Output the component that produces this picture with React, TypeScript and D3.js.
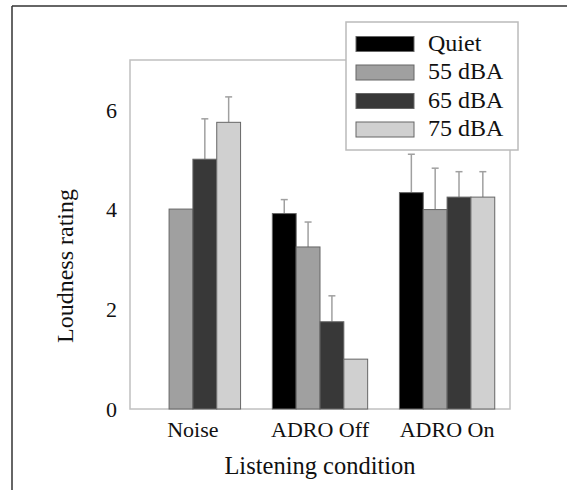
import * as d3 from 'd3';

const categories = ['Noise', 'ADRO Off', 'ADRO On'];
const seriesNames = ['Quiet', '55 dBA', '65 dBA', '75 dBA'];
const seriesColors = ['#000000', '#a0a0a0', '#383838', '#d0d0d0'];

// mean loudness ratings per listening condition (null = not measured)
const quiet = [null, 3.92, 4.34];
const dba55 = [4.01, 3.25, 4.0];
const dba65 = [5.01, 1.75, 4.25];
const dba75 = [5.75, 1.0, 4.25];

// upper error bar lengths
const quietErr = [null, 0.28, 0.77];
const dba55Err = [0, 0.5, 0.83];
const dba65Err = [0.81, 0.52, 0.51];
const dba75Err = [0.51, 0, 0.51];

const yTicks = [0, 2, 4, 6];

const W = 567;
const H = 490;
const FONT = "'Liberation Serif', 'Times New Roman', serif";

export default function App() {
  const margin = { top: 60, right: 57, bottom: 81, left: 130 };
  const innerW = W - margin.left - margin.right;
  const innerH = H - margin.top - margin.bottom;

  const values = [quiet, dba55, dba65, dba75];
  const errors = [quietErr, dba55Err, dba65Err, dba75Err];

  const x0 = d3.scaleBand<string>()
    .domain(categories)
    .range([0, innerW])
    .paddingInner(0.25)
    .paddingOuter(0.12);

  const x1 = d3.scaleBand<string>()
    .domain(seriesNames)
    .range([0, x0.bandwidth()]);

  const y = d3.scaleLinear().domain([0, 7]).range([innerH, 0]);

  const bars: any[] = [];
  categories.forEach((cat, ci) => {
    seriesNames.forEach((s, si) => {
      const v = values[si][ci];
      if (v == null) return;
      bars.push({ cat, s, v, err: errors[si][ci] || 0, color: seriesColors[si] });
    });
  });

  const legend = { x: 346, y: 22, w: 172, h: 128, row: 28.5 };

  return (
    <svg width={W} height={H} style={{ position: 'absolute', left: 0, top: 0, background: '#fff' }}>
      {/* outer figure frame */}
      <line x1={12} y1={6} x2={W} y2={6} stroke="#333" strokeWidth={1.5} />
      <line x1={12} y1={6} x2={12} y2={H} stroke="#333" strokeWidth={1.5} />

      <g transform={`translate(${margin.left},${margin.top})`}>
        {/* plot box */}
        <rect x={0} y={0} width={innerW} height={innerH} fill="none" stroke="#c0c0c0" strokeWidth={1.5} />

        {/* error bars */}
        {bars.filter((d) => d.err > 0).map((d, i) => {
          const cx = x0(d.cat)! + x1(d.s)! + x1.bandwidth() / 2;
          return (
            <g key={'e' + i} stroke="#a0a0a0" strokeWidth={1.5}>
              <line x1={cx} x2={cx} y1={y(d.v)} y2={y(d.v + d.err)} />
              <line x1={cx - 3.5} x2={cx + 3.5} y1={y(d.v + d.err)} y2={y(d.v + d.err)} />
            </g>
          );
        })}

        {/* bars */}
        {bars.map((d, i) => (
          <rect
            key={'b' + i}
            x={x0(d.cat)! + x1(d.s)!}
            y={y(d.v)}
            width={x1.bandwidth()}
            height={innerH - y(d.v)}
            fill={d.color}
            stroke="#666"
            strokeWidth={1}
          />
        ))}

        {/* y tick labels */}
        {yTicks.map((t) => (
          <text key={t} x={-13} y={y(t)} dy="0.35em" textAnchor="end"
            fontFamily={FONT} fontSize={22} fill="#111">{t}</text>
        ))}

        {/* x category labels */}
        {categories.map((c) => (
          <text key={c} x={x0(c)! + x0.bandwidth() / 2} y={innerH + 28} textAnchor="middle"
            fontFamily={FONT} fontSize={22} fill="#111">{c}</text>
        ))}

        {/* axis titles */}
        <text x={innerW / 2} y={innerH + 65} textAnchor="middle"
          fontFamily={FONT} fontSize={24.5} fill="#111">Listening condition</text>
        <text transform={`translate(${73 - margin.left},${266 - margin.top}) rotate(-90)`}
          textAnchor="middle" fontFamily={FONT} fontSize={24} fill="#111">Loudness rating</text>
      </g>

      {/* legend */}
      <g transform={`translate(${legend.x},${legend.y})`}>
        <rect x={0} y={0} width={legend.w} height={legend.h} fill="#fff" stroke="#bbb" strokeWidth={1.5} />
        {seriesNames.map((s, i) => (
          <g key={s} transform={`translate(0,${14.5 + i * legend.row})`}>
            <rect x={10} y={0} width={58} height={15} fill={seriesColors[i]} stroke="#666" strokeWidth={1} />
            <text x={82} y={14} fontFamily={FONT} fontSize={24} fill="#111">{s}</text>
          </g>
        ))}
      </g>
    </svg>
  );
}
